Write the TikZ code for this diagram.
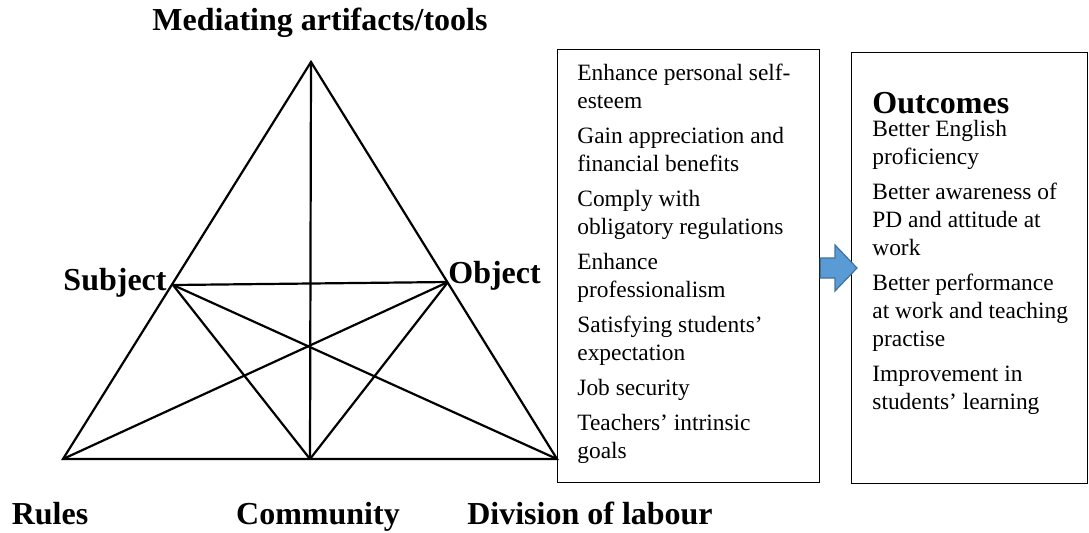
\documentclass[tikz,border=0pt]{standalone}
\usepackage{fontspec}
\setmainfont{Liberation Serif}
\usepackage{tikz}
\usetikzlibrary{positioning, calc}

\definecolor{arrowfill}{RGB}{91,155,213}
\definecolor{arrowline}{RGB}{65,113,156}

\newcommand{\headfont}{\fontsize{16}{19}\selectfont\bfseries}
\newcommand{\listfont}{\fontsize{11.7}{14}\selectfont}

\tikzset{
  corner/.style={font=\headfont, inner sep=0pt},
  listtext/.style={font=\listfont, inner sep=0pt, anchor=base west, align=left},
  listbox/.style={draw, line width=0.6pt, inner sep=0pt, anchor=north west},
  edge/.style={line width=1.1pt, line join=miter},
}

\begin{document}
\begin{tikzpicture}[x=0.5pt, y=-0.5pt]
  \useasboundingbox (0,0) rectangle (1089,532);

  % corners of the activity triangle
  \coordinate (med) at (311,62);  % top
  \coordinate (rul) at (63,459);  % bottom left
  \coordinate (com) at (310,459); % bottom middle
  \coordinate (div) at (557,459); % bottom right
  \coordinate (sub) at (173,285); % left edge
  \coordinate (obj) at (448,282); % right edge

  \draw[edge] (med) -- (rul) -- (div) -- cycle;
  \draw[edge] (med) -- (com);
  \draw[edge] (sub) -- (obj);
  \draw[edge] (sub) -- (com);
  \draw[edge] (sub) -- (div);
  \draw[edge] (obj) -- (rul);
  \draw[edge] (obj) -- (com);

  % labels
  \node[corner] (medlabel) at (320,23) {Mediating artifacts/tools};
  \node[corner, anchor=east] (sublabel) at (167,283) {Subject};
  \node[corner, anchor=west] (objlabel) at (448,276) {Object};
  \node[corner, anchor=base] (rullabel) at (50,524) {Rules};
  \node[corner, anchor=base] (comlabel) at (318,524) {Community};
  \node[corner, anchor=base] (divlabel) at (590,524) {Division of labour};

  % motives box
  \node[listbox, minimum width=262*0.5pt, minimum height=433*0.5pt] (motives) at (557,49) {};
  \node[listtext] (motivetext) at (577,80) {\parbox[t]{110pt}{\raggedright
    Enhance personal self-\\esteem\\[3.5pt]
    Gain appreciation and\\financial benefits\\[3.5pt]
    Comply with\\obligatory regulations\\[3.5pt]
    Enhance\\professionalism\\[3.5pt]
    Satisfying students’\\expectation\\[3.5pt]
    Job security\\[3.5pt]
    Teachers’ intrinsic\\goals}};

  % outcomes box
  \node[listbox, minimum width=236*0.5pt, minimum height=431*0.5pt] (outcomes) at (851,52) {};
  \node[corner, anchor=base west] (outtitle) at (872,113) {Outcomes};
  \node[listtext] (outtext) at (872,136) {\parbox[t]{100pt}{\raggedright
    Better English\\proficiency\\[3.5pt]
    Better awareness of\\PD and attitude at\\work\\[3.5pt]
    Better performance\\at work and teaching\\practise\\[3.5pt]
    Improvement in\\students’ learning}};

  % block arrow between the boxes
  \draw[arrowline, fill=arrowfill, line width=0.6pt]
    (motives.east |- 0,258) -- (835,258) -- (835,245) -- (857,268)
    -- (835,291) -- (835,278) -- (motives.east |- 0,278) -- cycle;
\end{tikzpicture}
\end{document}
